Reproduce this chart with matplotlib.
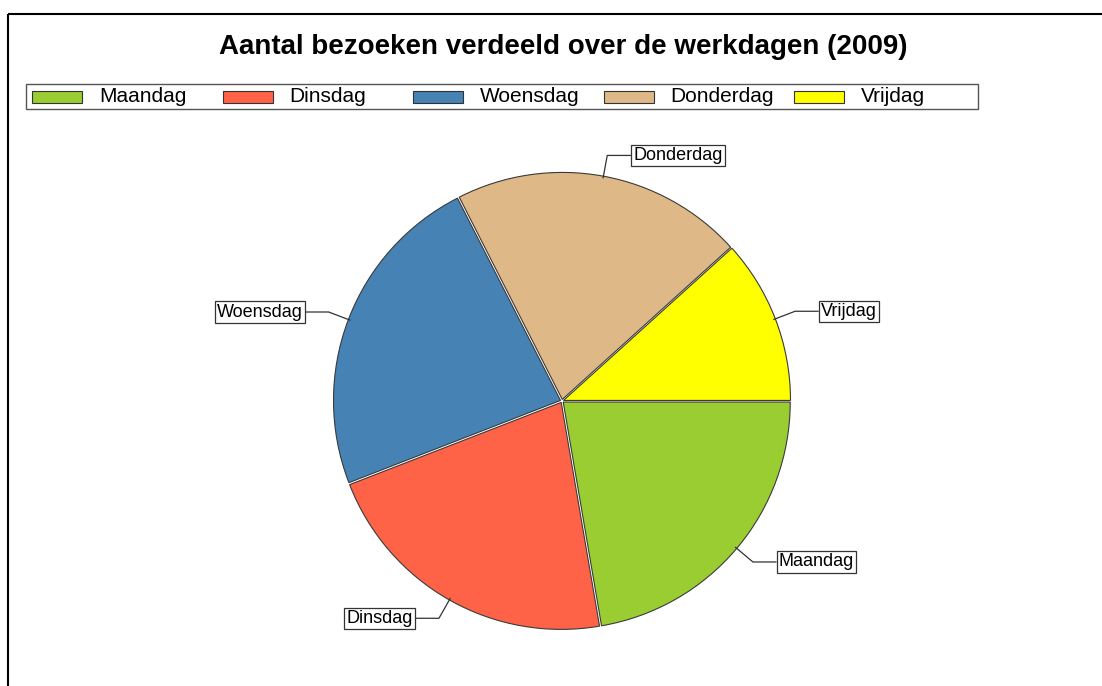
import numpy as np
import matplotlib
matplotlib.use("Agg")
import matplotlib.pyplot as plt
from matplotlib.patches import Rectangle
from matplotlib.lines import Line2D

plt.rcParams['font.family'] = ['Liberation Sans', 'DejaVu Sans']

# visits per weekday (share of total)
days = ["Maandag", "Dinsdag", "Woensdag", "Donderdag", "Vrijdag"]
visits = [223, 218, 234, 208, 117]
colors = ["#9ACD32", "#FF6347", "#4682B4", "#DEB887", "#FFFF00"]

W, H = 1102, 686
fig = plt.figure(figsize=(W / 100, H / 100), dpi=100)
ax = fig.add_axes([0, 0, 1, 1])

# pie in pixel coordinates (y upwards); explode is in data units here
cx, cy, R = 562, H - 401, 227
wedges, _ = ax.pie(visits, colors=colors, startangle=0, counterclock=False,
                   center=(cx, cy), radius=R, explode=[1.6] * len(visits),
                   wedgeprops=dict(edgecolor="#3a3a3a", linewidth=0.8))
ax.set_xlim(0, W)
ax.set_ylim(0, H)
ax.set_aspect("auto")
ax.axis("off")

# outer frame (only top and left visible)
fig.add_artist(Line2D([8 / W, 1.0], [1 - 14 / H, 1 - 14 / H], color="black",
                      lw=1.5, solid_capstyle="butt", transform=fig.transFigure))
fig.add_artist(Line2D([8 / W, 8 / W], [1 - 14 / H, 0.0], color="black",
                      lw=1.5, solid_capstyle="butt", transform=fig.transFigure))

ax.text(563, H - 47, "Aantal bezoeken verdeeld over de werkdagen (2009)",
        ha="center", va="center", fontsize=20, fontweight="bold")

# legend box
ax.add_patch(Rectangle((26, H - 109), 952, 25, fc="white", ec="#555555", lw=1))
for i, (d, c) in enumerate(zip(days, colors)):
    x0 = 32 + i * 190.5
    ax.add_patch(Rectangle((x0, H - 103), 50, 12, fc=c, ec="#333333", lw=0.8))
    ax.text(x0 + 67, H - 97, d, ha="left", va="center", fontsize=15)

# slice labels with leader lines
for w, d in zip(wedges, days):
    ang = np.deg2rad((w.theta1 + w.theta2) / 2)
    ca, sa = np.cos(ang), np.sin(ang)
    x0, y0 = cx + R * ca, cy + R * sa
    x1, y1 = cx + 1.1 * R * ca, cy + 1.1 * R * sa
    side = 1 if ca >= 0 else -1
    x2 = x1 + side * 23
    ax.plot([x0, x1, x2], [y0, y1, y1], color="#333333", lw=0.9)
    ax.text(x2 + side * 3, y1, d, ha="left" if side > 0 else "right",
            va="center", fontsize=13,
            bbox=dict(boxstyle="square,pad=0.12", fc="white", ec="#333333", lw=0.9))

fig.savefig("out.png", dpi=100)
